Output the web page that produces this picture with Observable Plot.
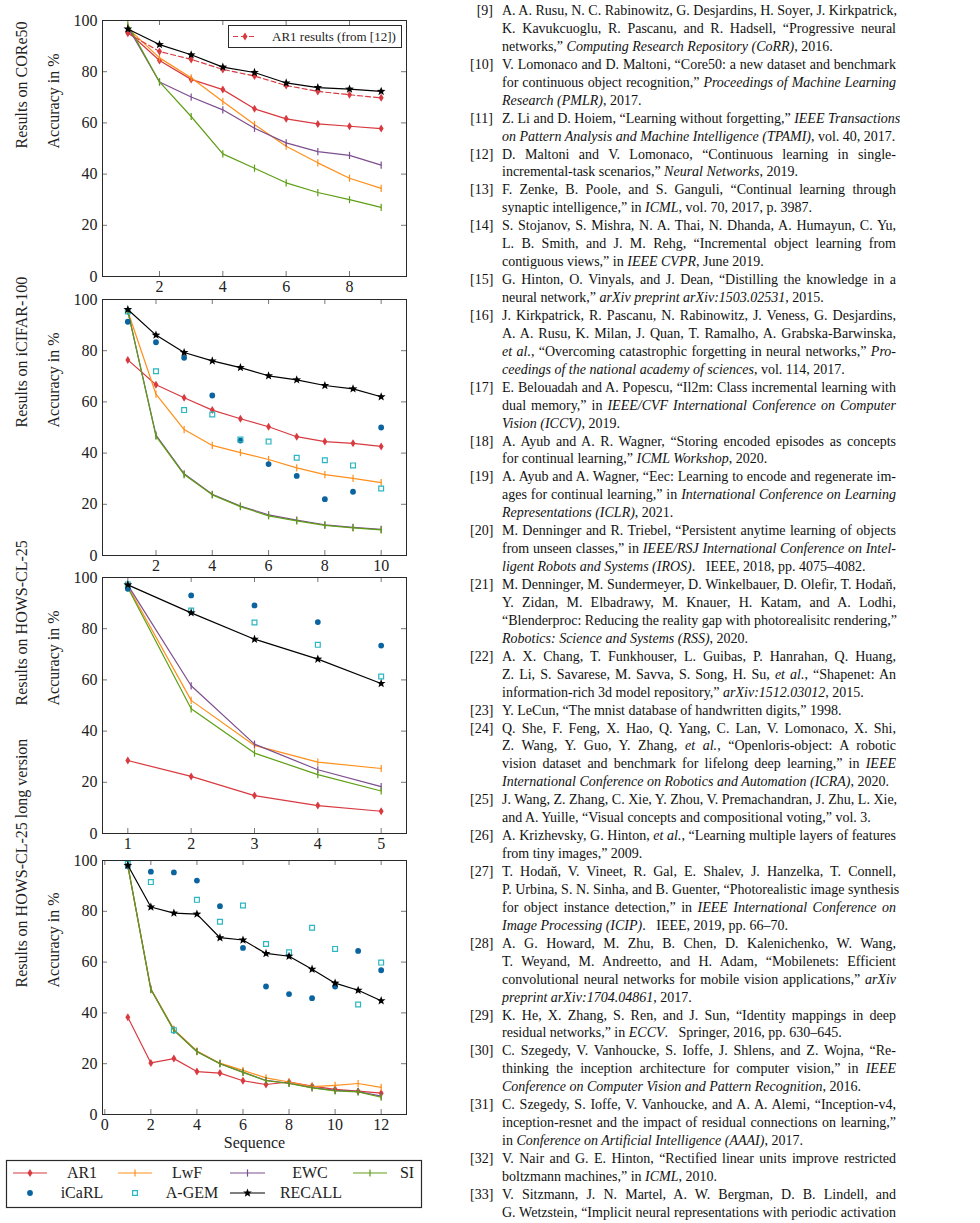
<!DOCTYPE html>
<html><head><meta charset="utf-8">
<script src="https://cdn.jsdelivr.net/npm/d3@7"></script>
<script src="https://cdn.jsdelivr.net/npm/@observablehq/plot@0.6"></script>
<style>
html,body{margin:0;padding:0;background:#fff;}
#page{position:relative;width:980px;height:1223px;overflow:hidden;font-family:"Liberation Serif","Times New Roman",serif;color:#111;background:#fff;}
.panel{position:absolute;left:0;}
.panel svg{overflow:visible;background:transparent;font-family:"Liberation Serif",serif !important;}
.panel svg text{font-family:"Liberation Serif",serif;}
#overlay{position:absolute;left:0;top:0;}
#overlay text{font-family:"Liberation Serif",serif;}
#refs{position:absolute;left:470px;top:2px;width:426px;font-size:14px;line-height:17.94px;color:#111;}
.ref{position:relative;padding-left:32px;}
.ref .n{position:absolute;left:0;top:0;width:23px;text-align:right;}
.ln{white-space:nowrap;text-align:justify;text-align-last:justify;}
.ln.last{text-align-last:left;}
</style></head>
<body><div id="page"><div id="refs"></div></div>
<script>
// ---------- data ----------
const yTicks = [0, 20, 40, 60, 80, 100];

const core50Seq = [1, 2, 3, 4, 5, 6, 7, 8, 9];
const core50Ticks = [2, 4, 6, 8];
const core50AR1 = [95.6, 84.4, 77.0, 73.0, 65.5, 61.6, 59.6, 58.7, 57.8];
const core50AR1ref = [95.0, 87.9, 84.8, 80.9, 78.3, 74.6, 72.3, 71.0, 69.8];
const core50LwF = [97.0, 85.4, 77.6, 68.4, 59.4, 50.9, 44.4, 38.4, 34.4];
const core50EWC = [97.5, 76.0, 70.1, 65.1, 57.9, 52.2, 48.8, 47.3, 43.5];
const core50SI = [98.4, 76.0, 62.5, 47.9, 42.3, 36.6, 32.8, 30.0, 27.0];
const core50RECALL = [96.7, 90.6, 86.6, 81.8, 79.7, 75.6, 73.8, 73.2, 72.3];

const cifarSeq = [1, 2, 3, 4, 5, 6, 7, 8, 9, 10];
const cifarTicks = [2, 4, 6, 8, 10];
const cifarAR1 = [76.4, 66.7, 61.6, 56.8, 53.4, 50.3, 46.4, 44.5, 43.8, 42.6];
const cifarLwF = [95.4, 63.0, 49.2, 43.0, 40.2, 37.5, 34.2, 31.6, 30.1, 28.5];
const cifarEWC = [95.5, 47.0, 31.9, 23.9, 19.3, 15.9, 13.8, 12.0, 11.0, 10.2];
const cifarSI = [95.5, 46.6, 31.6, 23.7, 19.1, 15.5, 13.5, 11.8, 10.8, 10.0];
const cifarICaRL = [91.3, 83.3, 77.2, 62.5, 44.9, 35.7, 31.1, 22.0, 24.9, 50.0];
const cifarAGEM = [95.3, 72.0, 56.8, 55.1, 45.3, 44.5, 38.2, 37.2, 35.2, 26.2];
const cifarRECALL = [96.1, 86.1, 79.3, 76.0, 73.4, 70.2, 68.6, 66.4, 65.1, 62.0];

const howsSeq = [1, 2, 3, 4, 5];
const howsTicks = [1, 2, 3, 4, 5];
const howsAR1 = [28.5, 22.3, 14.8, 10.9, 8.7];
const howsLwF = [96.5, 52.0, 34.4, 27.9, 25.4];
const howsEWC = [97.0, 57.7, 34.9, 24.9, 18.3];
const howsSI = [96.0, 48.7, 31.4, 23.0, 16.6];
const howsICaRL = [95.6, 93.0, 89.1, 82.6, 73.4];
const howsAGEM = [97.3, 87.1, 82.4, 73.7, 61.3];
const howsRECALL = [97.1, 86.2, 75.9, 68.1, 58.6];

const longSeq = [1, 2, 3, 4, 5, 6, 7, 8, 9, 10, 11, 12];
const longTicks = [0, 2, 4, 6, 8, 10, 12];
const longAR1 = [38.3, 20.3, 22.0, 16.9, 16.3, 13.3, 11.8, 12.8, 11.2, 9.9, 9.2, 8.4];
const longLwF = [98.0, 49.5, 33.5, 25.0, 20.2, 17.4, 14.4, 12.8, 11.0, 11.5, 12.2, 10.7];
const longEWC = [98.0, 49.3, 33.2, 24.8, 20.0, 16.7, 13.4, 12.3, 10.6, 9.5, 9.0, 7.2];
const longSI = [98.0, 49.2, 33.1, 24.7, 20.0, 16.6, 13.3, 12.2, 10.5, 9.3, 8.9, 6.8];
const longICaRL = [97.8, 95.6, 95.3, 92.1, 82.0, 65.6, 50.4, 47.4, 45.8, 50.4, 64.4, 56.8];
const longAGEM = [98.7, 91.5, 33.2, 84.5, 75.9, 82.3, 67.1, 63.9, 73.5, 65.2, 43.3, 59.8];
const longRECALL = [98.1, 81.7, 79.3, 78.9, 69.6, 68.7, 63.4, 62.3, 57.2, 51.7, 48.9, 44.8];

const legendRow1 = ["AR1", "LwF", "EWC", "SI"];
const legendRow2 = ["iCaRL", "A-GEM", "RECALL"];

// ---------- styles ----------
const FONT = "'Liberation Serif', 'Times New Roman', serif";
const COL = {AR1: "#d83a40", LwF: "#ff8f1a", EWC: "#7d4e8e", SI: "#5e9e14", iCaRL: "#0a64a0", AGEM: "#2ab6c2", RECALL: "#000000"};
const symBar = {draw(c, s) { const r = Math.sqrt(s / Math.PI); c.moveTo(0, -r); c.lineTo(0, r); }};
const symDiamond = {draw(c, s) { const r = Math.sqrt(s / Math.PI); c.moveTo(0, -r); c.lineTo(0.62 * r, 0); c.lineTo(0, r); c.lineTo(-0.62 * r, 0); c.closePath(); }};
const symStar = {draw(c, s) { const r = Math.sqrt(s / Math.PI); for (let i = 0; i < 10; i++) { const a = -Math.PI / 2 + i * Math.PI / 5; const rr = i % 2 ? r * 0.42 : r; const x = rr * Math.cos(a), y = rr * Math.sin(a); if (i) c.lineTo(x, y); else c.moveTo(x, y); } c.closePath(); }};
const symSquare = {draw(c, s) { const r = Math.sqrt(s / Math.PI); c.rect(-r, -r, 2 * r, 2 * r); }};
const symCircle = {draw(c, s) { const r = Math.sqrt(s / Math.PI); c.moveTo(r, 0); c.arc(0, 0, r, 0, 2 * Math.PI); }};

const STY = {
  AR1:    {line: true, stroke: COL.AR1, sym: symDiamond, r: 4, mfill: COL.AR1, mstroke: "none", msw: 0},
  AR1ref: {line: true, dash: "5,3", stroke: COL.AR1, sym: symDiamond, r: 4, mfill: COL.AR1, mstroke: "none", msw: 0},
  LwF:    {line: true, stroke: COL.LwF, sym: symBar, r: 3.6, mfill: "none", mstroke: COL.LwF, msw: 1.2},
  EWC:    {line: true, stroke: COL.EWC, sym: symBar, r: 3.6, mfill: "none", mstroke: COL.EWC, msw: 1.2},
  SI:     {line: true, stroke: COL.SI, sym: symBar, r: 3.6, mfill: "none", mstroke: COL.SI, msw: 1.2},
  iCaRL:  {line: false, sym: symCircle, r: 2.9, mfill: COL.iCaRL, mstroke: "none", msw: 0},
  AGEM:   {line: false, sym: symSquare, r: 2.4, mfill: "none", mstroke: COL.AGEM, msw: 1.2},
  RECALL: {line: true, stroke: COL.RECALL, sym: symStar, r: 4.6, mfill: "#000", mstroke: "none", msw: 0}
};

const panels = [
  {title: "Results on CORe50", xs: core50Seq, xTicks: core50Ticks, frameTop: 20, frameH: 256,
   series: [["AR1", core50AR1], ["LwF", core50LwF], ["EWC", core50EWC], ["SI", core50SI], ["AR1ref", core50AR1ref], ["RECALL", core50RECALL]]},
  {title: "Results on iCIFAR-100", xs: cifarSeq, xTicks: cifarTicks, frameTop: 299, frameH: 256,
   series: [["AR1", cifarAR1], ["LwF", cifarLwF], ["EWC", cifarEWC], ["SI", cifarSI], ["iCaRL", cifarICaRL], ["AGEM", cifarAGEM], ["RECALL", cifarRECALL]]},
  {title: "Results on HOWS-CL-25", xs: howsSeq, xTicks: howsTicks, frameTop: 577, frameH: 256,
   series: [["AR1", howsAR1], ["LwF", howsLwF], ["EWC", howsEWC], ["SI", howsSI], ["iCaRL", howsICaRL], ["AGEM", howsAGEM], ["RECALL", howsRECALL]]},
  {title: "Results on HOWS-CL-25 long version", xs: longSeq, xTicks: longTicks, frameTop: 860, frameH: 254, seq: true,
   series: [["AR1", longAR1], ["LwF", longLwF], ["EWC", longEWC], ["SI", longSI], ["iCaRL", longICaRL], ["AGEM", longAGEM], ["RECALL", longRECALL]]}
];

const page = document.getElementById("page");
const FW = 304, ML = 102, MR = 14, MT = 12;

for (const p of panels) {
  const x0 = p.xs[0], x1 = p.xs[p.xs.length - 1], pad = 0.1 * (x1 - x0);
  const MB = p.seq ? 50 : 26;
  const marks = [
    Plot.tickX(p.xTicks, {x: d => d, insetTop: p.frameH - 5, stroke: "#777"}),
    Plot.tickX(p.xTicks, {x: d => d, insetBottom: p.frameH - 5, stroke: "#777"}),
    Plot.tickY(yTicks, {y: d => d, insetRight: FW - 5, stroke: "#777"}),
    Plot.tickY(yTicks, {y: d => d, insetLeft: FW - 5, stroke: "#777"})
  ];
  for (const [name, vals] of p.series) {
    const st = STY[name];
    const data = p.xs.map((x, i) => ({x, y: vals[i]}));
    if (st.line) marks.push(Plot.line(data, {x: "x", y: "y", stroke: st.stroke, strokeWidth: 1.2, strokeDasharray: st.dash}));
    marks.push(Plot.dot(data, {x: "x", y: "y", symbol: st.sym, r: st.r, fill: st.mfill, stroke: st.mstroke, strokeWidth: st.msw}));
  }
  marks.push(Plot.frame({stroke: "#2a2a2a", strokeWidth: 1}));
  marks.push(Plot.text([p.title], {text: d => d, frameAnchor: "left", dx: -81, rotate: -90, fontSize: 16, fill: "#222", fontFamily: FONT}));
  marks.push(Plot.text(["Accuracy in %"], {text: d => d, frameAnchor: "left", dx: -49, rotate: -90, fontSize: 16, fill: "#222", fontFamily: FONT}));
  if (p.seq) marks.push(Plot.text(["Sequence"], {text: d => d, frameAnchor: "bottom", dy: 33, fontSize: 16, fill: "#222", fontFamily: FONT}));
  const svg = Plot.plot({
    width: ML + FW + MR, height: MT + p.frameH + MB,
    marginLeft: ML, marginRight: MR, marginTop: MT, marginBottom: MB,
    style: {fontFamily: FONT, fontSize: "16px", color: "#222", background: "transparent", overflow: "visible"},
    x: {domain: [x0 - pad, x1 + pad], ticks: p.xTicks, tickSize: 0, tickPadding: 4, tickFormat: d => String(d), label: null},
    y: {domain: [0, 100], ticks: yTicks, tickSize: 0, tickPadding: 5, tickFormat: d => String(d), label: null},
    marks
  });
  const div = document.createElement("div");
  div.className = "panel";
  div.style.top = (p.frameTop - MT) + "px";
  div.appendChild(svg);
  page.appendChild(div);
}

// ---------- legends (overlay) ----------
const ov = d3.select(page).append("svg").attr("id", "overlay").attr("width", 980).attr("height", 1223)
  .style("font-family", FONT);
function marker(g, key, cx, cy) {
  const st = STY[key];
  g.append("path").attr("transform", `translate(${cx},${cy})`)
    .attr("d", d3.symbol(st.sym, Math.PI * st.r * st.r)())
    .attr("fill", st.mfill).attr("stroke", st.mstroke).attr("stroke-width", st.msw);
}
function sample(g, key, xa, xb, cy) {
  const st = STY[key];
  if (st.line) g.append("line").attr("x1", xa).attr("x2", xb).attr("y1", cy).attr("y2", cy)
    .attr("stroke", st.stroke).attr("stroke-width", 1.2).attr("stroke-dasharray", st.dash || null);
  marker(g, key, (xa + xb) / 2, cy);
}
// inner legend (panel 1)
ov.append("rect").attr("x", 228.5).attr("y", 25.5).attr("width", 173).attr("height", 22).attr("fill", "#fff").attr("stroke", "#2a2a2a");
sample(ov, "AR1ref", 233, 257, 36.5);
ov.append("text").attr("x", 272).attr("y", 36.5).attr("dy", "0.33em").attr("font-size", 13).attr("fill", "#222").text("AR1 results (from [12])");
// bottom legend
ov.append("rect").attr("x", 6.5).attr("y", 1160.5).attr("width", 415).attr("height", 47).attr("fill", "#fff").attr("stroke", "#2a2a2a").attr("stroke-width", 1.2);
const keys1 = ["AR1", "LwF", "EWC", "SI"], keys2 = ["iCaRL", "AGEM", "RECALL"];
const lx1 = [[13, 47], [118, 152], [230, 265], [353, 387]], tx1 = [82, 187, 310, 407];
const lx2 = [[13, 47], [118, 152], [230, 265]], tx2 = [82, 192, 311];
keys1.forEach((k, i) => {
  sample(ov, k, lx1[i][0], lx1[i][1], 1173);
  ov.append("text").attr("x", tx1[i]).attr("y", 1173).attr("dy", "0.33em").attr("text-anchor", "middle").attr("font-size", 16).attr("fill", "#222").text(legendRow1[i]);
});
keys2.forEach((k, i) => {
  sample(ov, k, lx2[i][0], lx2[i][1], 1193);
  ov.append("text").attr("x", tx2[i]).attr("y", 1193).attr("dy", "0.33em").attr("text-anchor", "middle").attr("font-size", 16).attr("fill", "#222").text(legendRow2[i]);
});

// ---------- reference list ----------
const refs = [
 ["[9]", ["A. A. Rusu, N. C. Rabinowitz, G. Desjardins, H. Soyer, J. Kirkpatrick,", "K. Kavukcuoglu, R. Pascanu, and R. Hadsell, “Progressive neural", "networks,” <i>Computing Research Repository (CoRR)</i>, 2016."]],
 ["[10]", ["V. Lomonaco and D. Maltoni, “Core50: a new dataset and benchmark", "for continuous object recognition,” <i>Proceedings of Machine Learning</i>", "<i>Research (PMLR)</i>, 2017."]],
 ["[11]", ["Z. Li and D. Hoiem, “Learning without forgetting,” <i>IEEE Transactions</i>", "<i>on Pattern Analysis and Machine Intelligence (TPAMI)</i>, vol. 40, 2017."]],
 ["[12]", ["D. Maltoni and V. Lomonaco, “Continuous learning in single-", "incremental-task scenarios,” <i>Neural Networks</i>, 2019."]],
 ["[13]", ["F. Zenke, B. Poole, and S. Ganguli, “Continual learning through", "synaptic intelligence,” in <i>ICML</i>, vol. 70, 2017, p. 3987."]],
 ["[14]", ["S. Stojanov, S. Mishra, N. A. Thai, N. Dhanda, A. Humayun, C. Yu,", "L. B. Smith, and J. M. Rehg, “Incremental object learning from", "contiguous views,” in <i>IEEE CVPR</i>, June 2019."]],
 ["[15]", ["G. Hinton, O. Vinyals, and J. Dean, “Distilling the knowledge in a", "neural network,” <i>arXiv preprint arXiv:1503.02531</i>, 2015."]],
 ["[16]", ["J. Kirkpatrick, R. Pascanu, N. Rabinowitz, J. Veness, G. Desjardins,", "A. A. Rusu, K. Milan, J. Quan, T. Ramalho, A. Grabska-Barwinska,", "<i>et al.</i>, “Overcoming catastrophic forgetting in neural networks,” <i>Pro-</i>", "<i>ceedings of the national academy of sciences</i>, vol. 114, 2017."]],
 ["[17]", ["E. Belouadah and A. Popescu, “Il2m: Class incremental learning with", "dual memory,” in <i>IEEE/CVF International Conference on Computer</i>", "<i>Vision (ICCV)</i>, 2019."]],
 ["[18]", ["A. Ayub and A. R. Wagner, “Storing encoded episodes as concepts", "for continual learning,” <i>ICML Workshop</i>, 2020."]],
 ["[19]", ["A. Ayub and A. Wagner, “Eec: Learning to encode and regenerate im-", "ages for continual learning,” in <i>International Conference on Learning</i>", "<i>Representations (ICLR)</i>, 2021."]],
 ["[20]", ["M. Denninger and R. Triebel, “Persistent anytime learning of objects", "from unseen classes,” in <i>IEEE/RSJ International Conference on Intel-</i>", "<i>ligent Robots and Systems (IROS)</i>.&nbsp;&nbsp; IEEE, 2018, pp. 4075–4082."]],
 ["[21]", ["M. Denninger, M. Sundermeyer, D. Winkelbauer, D. Olefir, T. Hodaň,", "Y. Zidan, M. Elbadrawy, M. Knauer, H. Katam, and A. Lodhi,", "“Blenderproc: Reducing the reality gap with photorealisitc rendering,”", "<i>Robotics: Science and Systems (RSS)</i>, 2020."]],
 ["[22]", ["A. X. Chang, T. Funkhouser, L. Guibas, P. Hanrahan, Q. Huang,", "Z. Li, S. Savarese, M. Savva, S. Song, H. Su, <i>et al.</i>, “Shapenet: An", "information-rich 3d model repository,” <i>arXiv:1512.03012</i>, 2015."]],
 ["[23]", ["Y. LeCun, “The mnist database of handwritten digits,” 1998."]],
 ["[24]", ["Q. She, F. Feng, X. Hao, Q. Yang, C. Lan, V. Lomonaco, X. Shi,", "Z. Wang, Y. Guo, Y. Zhang, <i>et al.</i>, “Openloris-object: A robotic", "vision dataset and benchmark for lifelong deep learning,” in <i>IEEE</i>", "<i>International Conference on Robotics and Automation (ICRA)</i>, 2020."]],
 ["[25]", ["J. Wang, Z. Zhang, C. Xie, Y. Zhou, V. Premachandran, J. Zhu, L. Xie,", "and A. Yuille, “Visual concepts and compositional voting,” vol. 3."]],
 ["[26]", ["A. Krizhevsky, G. Hinton, <i>et al.</i>, “Learning multiple layers of features", "from tiny images,” 2009."]],
 ["[27]", ["T. Hodaň, V. Vineet, R. Gal, E. Shalev, J. Hanzelka, T. Connell,", "P. Urbina, S. N. Sinha, and B. Guenter, “Photorealistic image synthesis", "for object instance detection,” in <i>IEEE International Conference on</i>", "<i>Image Processing (ICIP)</i>.&nbsp;&nbsp; IEEE, 2019, pp. 66–70."]],
 ["[28]", ["A. G. Howard, M. Zhu, B. Chen, D. Kalenichenko, W. Wang,", "T. Weyand, M. Andreetto, and H. Adam, “Mobilenets: Efficient", "convolutional neural networks for mobile vision applications,” <i>arXiv</i>", "<i>preprint arXiv:1704.04861</i>, 2017."]],
 ["[29]", ["K. He, X. Zhang, S. Ren, and J. Sun, “Identity mappings in deep", "residual networks,” in <i>ECCV</i>.&nbsp;&nbsp; Springer, 2016, pp. 630–645."]],
 ["[30]", ["C. Szegedy, V. Vanhoucke, S. Ioffe, J. Shlens, and Z. Wojna, “Re-", "thinking the inception architecture for computer vision,” in <i>IEEE</i>", "<i>Conference on Computer Vision and Pattern Recognition</i>, 2016."]],
 ["[31]", ["C. Szegedy, S. Ioffe, V. Vanhoucke, and A. A. Alemi, “Inception-v4,", "inception-resnet and the impact of residual connections on learning,”", "in <i>Conference on Artificial Intelligence (AAAI)</i>, 2017."]],
 ["[32]", ["V. Nair and G. E. Hinton, “Rectified linear units improve restricted", "boltzmann machines,” in <i>ICML</i>, 2010."]],
 ["[33]", ["V. Sitzmann, J. N. Martel, A. W. Bergman, D. B. Lindell, and", "G. Wetzstein, “Implicit neural representations with periodic activation"], true]
];
const refsDiv = document.getElementById("refs");
for (const [n, lines, cont] of refs) {
  const r = document.createElement("div");
  r.className = "ref";
  let html = `<span class="n">${n}</span>`;
  lines.forEach((l, i) => {
    const last = i === lines.length - 1 && !cont;
    html += `<div class="ln${last ? " last" : ""}">${l}</div>`;
  });
  r.innerHTML = html;
  refsDiv.appendChild(r);
}
</script></body></html>
